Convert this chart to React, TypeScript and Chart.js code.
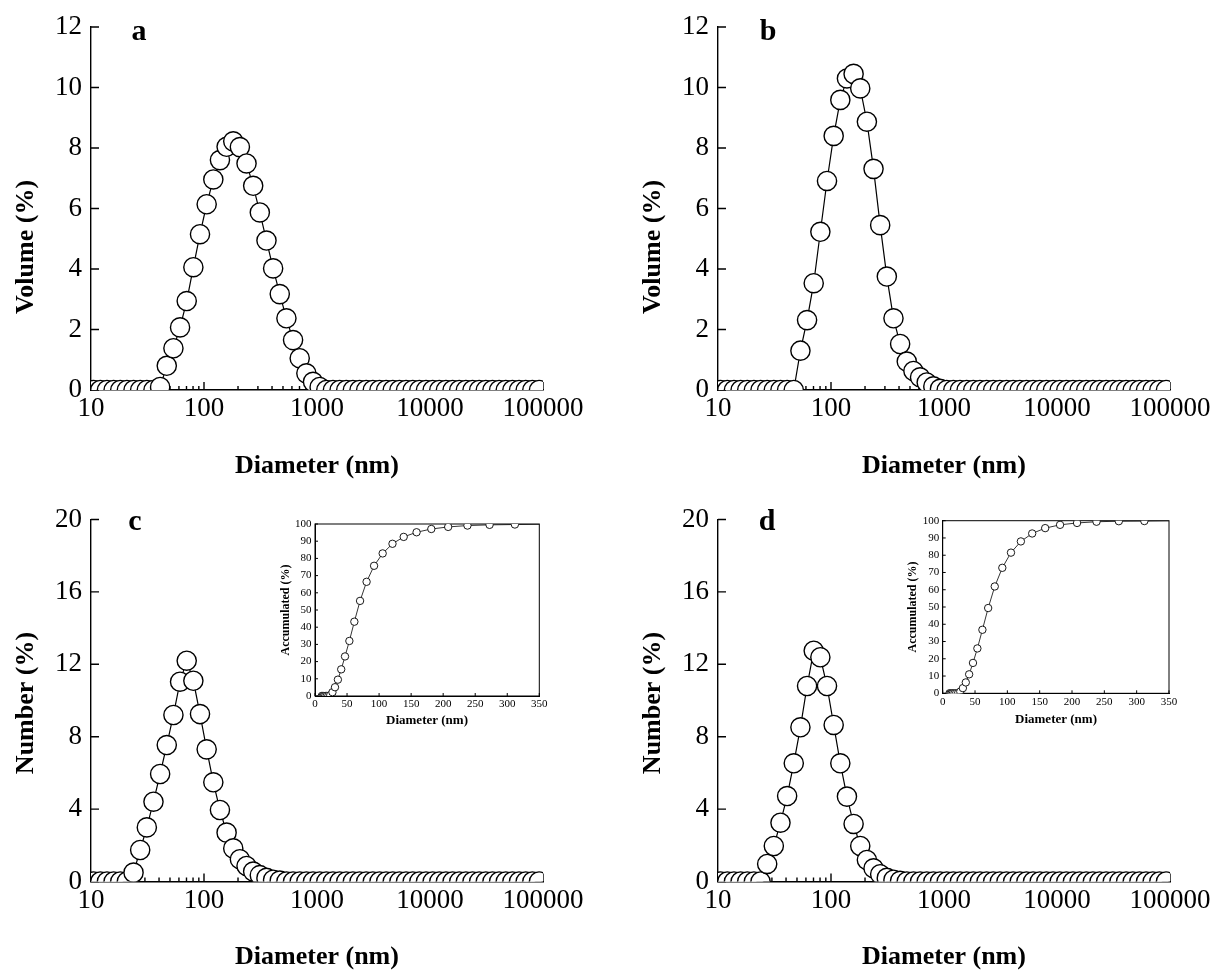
import { useEffect, useRef } from 'react';
import { Chart, registerables } from 'chart.js';

Chart.register(...registerables);

// ---------- data ----------
const DIAMETERS_NM = [
  10.56, 12.09, 13.84, 15.85, 18.15, 20.78, 23.79, 27.24, 31.19, 35.72, 40.9, 46.83, 53.63, 61.4, 70.31, 80.51, 92.19,
  105.6, 120.9, 138.4, 158.5, 181.5, 207.8, 237.9, 272.4, 311.9, 357.2, 409.0, 468.3, 536.3, 614.0, 703.1, 805.1, 921.9,
  1056, 1209, 1384, 1585, 1815, 2078, 2379, 2724, 3119, 3572, 4090, 4683, 5363, 6140, 7031, 8051, 9219,
  10560, 12090, 13840, 15850, 18150, 20780, 23790, 27240, 31190, 35720, 40900, 46830, 53630, 61400, 70310, 80510, 92190,
];

const VOLUME_A = [
  0, 0, 0, 0, 0, 0, 0, 0, 0, 0, 0.1, 0.8, 1.38, 2.07, 2.94, 4.06, 5.15,
  6.14, 6.96, 7.6, 8.04, 8.22, 8.03, 7.49, 6.75, 5.87, 4.94, 4.02, 3.17, 2.37, 1.65, 1.05, 0.55, 0.27,
  0.1, 0, 0, 0, 0, 0, 0, 0, 0, 0, 0, 0, 0, 0, 0, 0, 0,
  0, 0, 0, 0, 0, 0, 0, 0, 0, 0, 0, 0, 0, 0, 0, 0, 0,
];

const VOLUME_B = [
  0, 0, 0, 0, 0, 0, 0, 0, 0, 0, 0, 0, 1.3, 2.31, 3.53, 5.23, 6.91,
  8.4, 9.59, 10.3, 10.45, 9.97, 8.87, 7.31, 5.45, 3.75, 2.37, 1.52, 0.94, 0.63, 0.42, 0.25, 0.12, 0.04,
  0, 0, 0, 0, 0, 0, 0, 0, 0, 0, 0, 0, 0, 0, 0, 0, 0,
  0, 0, 0, 0, 0, 0, 0, 0, 0, 0, 0, 0, 0, 0, 0, 0, 0,
];

const NUMBER_C = [
  0, 0, 0, 0, 0, 0, 0.49, 1.74, 2.99, 4.41, 5.94, 7.54, 9.2, 11.04, 12.2, 11.09, 9.25,
  7.3, 5.48, 3.95, 2.7, 1.83, 1.23, 0.86, 0.55, 0.35, 0.2, 0.1, 0.05, 0, 0, 0, 0, 0,
  0, 0, 0, 0, 0, 0, 0, 0, 0, 0, 0, 0, 0, 0, 0, 0, 0,
  0, 0, 0, 0, 0, 0, 0, 0, 0, 0, 0, 0, 0, 0, 0, 0, 0,
];

const NUMBER_D = [
  0, 0, 0, 0, 0, 0, 0, 0.97, 1.96, 3.25, 4.72, 6.53, 8.52, 10.8, 12.75, 12.39, 10.8,
  8.65, 6.53, 4.69, 3.18, 1.96, 1.19, 0.73, 0.4, 0.2, 0.1, 0.04, 0, 0, 0, 0, 0, 0,
  0, 0, 0, 0, 0, 0, 0, 0, 0, 0, 0, 0, 0, 0, 0, 0, 0,
  0, 0, 0, 0, 0, 0, 0, 0, 0, 0, 0, 0, 0, 0, 0, 0, 0,
];

const ACCUM_C = [
  0, 0, 0, 0, 0, 0, 0.5, 2.2, 5.1, 9.5, 15.5, 23, 32, 43.2, 55.3, 66.4, 75.7,
  82.9, 88.5, 92.5, 95.2, 97.1, 98.3, 99.1, 99.5, 99.7, 99.9, 100, 100, 100,
];

const ACCUM_D = [
  0, 0, 0, 0, 0, 0, 0, 1, 3, 6.3, 11, 17.6, 26, 36.8, 49.4, 61.9, 72.7,
  81.5, 88, 92.6, 95.7, 97.6, 98.7, 99.4, 99.7, 99.8, 100, 100, 100, 100,
];

const X_MAJOR_TICKS = [10, 100, 1000, 10000, 100000];
const X_MINOR_MULTIPLIERS = [2, 3, 4, 5, 6, 7, 8, 9];
const VOLUME_Y_TICKS = [0, 2, 4, 6, 8, 10, 12];
const NUMBER_Y_TICKS = [0, 4, 8, 12, 16, 20];
const INSET_X_TICKS = [0, 50, 100, 150, 200, 250, 300, 350];
const INSET_Y_TICKS = [0, 10, 20, 30, 40, 50, 60, 70, 80, 90, 100];

const PANEL_LETTERS = ['a', 'b', 'c', 'd'];
const Y_TITLES = ['Volume (%)', 'Volume (%)', 'Number (%)', 'Number (%)'];
const X_TITLE = 'Diameter (nm)';
const INSET_Y_TITLE = 'Accumulated (%)';

// ---------- drawing ----------
const W = 1223;
const H = 973;
const FONT = "'Liberation Serif', 'Times New Roman', serif";

type Box = { left: number; top: number; right: number; bottom: number };
type TextItem = { text: string; x: number; y: number; size: number; bold: boolean; rot?: boolean; base?: CanvasTextBaseline };

function decoPlugin(o: {
  yTicks: number[];
  xTicks: number[];
  xMinor: number[];
  major: number;
  minor: number;
  lw: number;
  frame: boolean;
  texts: TextItem[];
}) {
  return {
    id: 'deco',
    beforeDatasetsDraw(chart: any) {
      const { ctx, chartArea: a, scales } = chart;
      const xs = scales.x;
      const ys = scales.y;
      ctx.save();
      ctx.strokeStyle = '#000';
      ctx.lineWidth = o.lw;
      ctx.beginPath();
      for (const v of o.yTicks) {
        const p = ys.getPixelForValue(v);
        ctx.moveTo(a.left, p);
        ctx.lineTo(a.left + o.major, p);
      }
      for (const v of o.xTicks) {
        const p = xs.getPixelForValue(v);
        ctx.moveTo(p, a.bottom);
        ctx.lineTo(p, a.bottom - o.major);
      }
      for (const v of o.xMinor) {
        const p = xs.getPixelForValue(v);
        ctx.moveTo(p, a.bottom);
        ctx.lineTo(p, a.bottom - o.minor);
      }
      ctx.stroke();
      if (o.frame) {
        ctx.strokeRect(a.left, a.top, a.right - a.left, a.bottom - a.top);
      }
      ctx.restore();
    },
    afterDraw(chart: any) {
      const { ctx } = chart;
      ctx.save();
      ctx.fillStyle = '#000';
      for (const t of o.texts) {
        ctx.font = `${t.bold ? 'bold ' : ''}${t.size}px ${FONT}`;
        ctx.textAlign = 'center';
        ctx.textBaseline = t.base || 'middle';
        ctx.save();
        ctx.translate(t.x, t.y);
        if (t.rot) ctx.rotate(-Math.PI / 2);
        ctx.fillText(t.text, 0, 0);
        ctx.restore();
      }
      ctx.restore();
    },
  };
}

function makeChart(
  canvas: HTMLCanvasElement,
  cfg: {
    box: Box;
    xs: number[];
    ys: number[];
    log: boolean;
    xMin: number;
    xMax: number;
    yMax: number;
    xTicks: number[];
    yTicks: number[];
    tickFont: number;
    xPad: number;
    yPad: number;
    radius: number;
    lw: number;
    pw: number;
    major: number;
    minor: number;
    frame: boolean;
    texts: TextItem[];
  }
) {
  const yAxisW = cfg.log ? 80 : 30;
  const xAxisH = cfg.log ? 60 : 20;
  const { box } = cfg;
  const xMinor: number[] = [];
  if (cfg.log) {
    for (const d of X_MAJOR_TICKS.slice(0, -1)) for (const m of X_MINOR_MULTIPLIERS) xMinor.push(d * m);
  }
  const data = cfg.ys.map((y, i) => ({ x: cfg.xs[i], y }));
  return new Chart(canvas, {
    type: 'line',
    data: {
      datasets: [
        {
          data,
          borderColor: '#000',
          borderWidth: cfg.lw,
          pointRadius: cfg.radius,
          pointHoverRadius: cfg.radius,
          pointBackgroundColor: '#fff',
          pointBorderColor: '#000',
          pointBorderWidth: cfg.pw,
          fill: false,
          tension: 0,
          clip: 0,
        } as any,
      ],
    },
    options: {
      animation: false,
      responsive: false,
      devicePixelRatio: 1,
      events: [],
      layout: {
        padding: {
          left: box.left - yAxisW,
          top: box.top,
          right: W - box.right,
          bottom: H - box.bottom - xAxisH,
        },
      },
      plugins: { legend: { display: false }, tooltip: { enabled: false } },
      scales: {
        x: {
          type: cfg.log ? 'logarithmic' : 'linear',
          min: cfg.xMin,
          max: cfg.xMax,
          afterBuildTicks: (s: any) => {
            s.ticks = cfg.xTicks.map((v) => ({ value: v }));
          },
          afterFit: (s: any) => {
            s.height = xAxisH;
          },
          ticks: {
            autoSkip: false,
            maxRotation: 0,
            minRotation: 0,
            padding: cfg.xPad,
            color: '#000',
            font: { family: FONT, size: cfg.tickFont },
            callback: (v: any) => String(v),
          },
          grid: { display: false, drawTicks: false },
          border: { display: true, color: '#000', width: cfg.lw + 0.2 },
        },
        y: {
          type: 'linear',
          min: 0,
          max: cfg.yMax,
          afterBuildTicks: (s: any) => {
            s.ticks = cfg.yTicks.map((v) => ({ value: v }));
          },
          afterFit: (s: any) => {
            s.width = yAxisW;
          },
          ticks: {
            autoSkip: false,
            padding: cfg.yPad,
            color: '#000',
            font: { family: FONT, size: cfg.tickFont },
            callback: (v: any) => String(v),
          },
          grid: { display: false, drawTicks: false },
          border: { display: true, color: '#000', width: cfg.lw + 0.2 },
        },
      } as any,
    },
    plugins: [
      decoPlugin({
        yTicks: cfg.yTicks,
        xTicks: cfg.xTicks,
        xMinor,
        major: cfg.major,
        minor: cfg.minor,
        lw: cfg.lw + 0.2,
        frame: cfg.frame,
        texts: cfg.texts,
      }),
    ],
  });
}

const MAIN_BOXES: Box[] = [
  { left: 91, top: 27, right: 543, bottom: 390 },
  { left: 718, top: 27, right: 1170, bottom: 390 },
  { left: 91, top: 519.5, right: 543, bottom: 881.5 },
  { left: 718, top: 519.5, right: 1170, bottom: 881.5 },
];

export default function App() {
  const refs = useRef<(HTMLCanvasElement | null)[]>([]);

  useEffect(() => {
    const charts: Chart[] = [];
    const series = [VOLUME_A, VOLUME_B, NUMBER_C, NUMBER_D];
    const letterPos = [
      [139, 40],
      [768, 40],
      [135, 530],
      [767, 530],
    ];
    const yTitlePos = [
      [26, 247],
      [653, 247],
      [26, 703],
      [653, 703],
    ];
    const xTitlePos = [
      [317, 466],
      [944, 466],
      [317, 957],
      [944, 957],
    ];
    for (let i = 0; i < 4; i++) {
      const c = refs.current[i];
      if (!c) continue;
      charts.push(
        makeChart(c, {
          box: MAIN_BOXES[i],
          xs: DIAMETERS_NM,
          ys: series[i],
          log: true,
          xMin: 10,
          xMax: 100000,
          yMax: i < 2 ? 12 : 20,
          xTicks: X_MAJOR_TICKS,
          yTicks: i < 2 ? VOLUME_Y_TICKS : NUMBER_Y_TICKS,
          tickFont: 27,
          xPad: 3,
          yPad: 9,
          radius: 9.6,
          lw: 1.2,
          pw: 1.4,
          major: 8,
          minor: 4,
          frame: false,
          texts: [
            { text: PANEL_LETTERS[i], x: letterPos[i][0], y: letterPos[i][1], size: 30, bold: true, base: 'alphabetic' },
            { text: Y_TITLES[i], x: yTitlePos[i][0], y: yTitlePos[i][1], size: 26, bold: true, rot: true },
            { text: X_TITLE, x: xTitlePos[i][0], y: xTitlePos[i][1], size: 26, bold: true },
          ],
        })
      );
    }
    const insets = [
      { box: { left: 315, top: 524, right: 539.3, bottom: 696 }, ys: ACCUM_C, xt: [427, 721], yt: [286, 610] },
      { box: { left: 942.7, top: 520.7, right: 1169, bottom: 693.3 }, ys: ACCUM_D, xt: [1056, 720], yt: [913, 607] },
    ];
    insets.forEach((ins, j) => {
      const c = refs.current[4 + j];
      if (!c) return;
      charts.push(
        makeChart(c, {
          box: ins.box,
          xs: DIAMETERS_NM.slice(0, ins.ys.length),
          ys: ins.ys,
          log: false,
          xMin: 0,
          xMax: 350,
          yMax: 100,
          xTicks: INSET_X_TICKS,
          yTicks: INSET_Y_TICKS,
          tickFont: 11,
          xPad: 2,
          yPad: 3.5,
          radius: 3.7,
          lw: 0.8,
          pw: 0.9,
          major: 3,
          minor: 0,
          frame: true,
          texts: [
            { text: X_TITLE, x: ins.xt[0], y: ins.xt[1], size: 13, bold: true },
            { text: INSET_Y_TITLE, x: ins.yt[0], y: ins.yt[1], size: 12, bold: true, rot: true },
          ],
        })
      );
    });
    return () => charts.forEach((ch) => ch.destroy());
  }, []);

  return (
    <div style={{ position: 'fixed', left: 0, top: 0, width: W, height: H, background: '#fff' }}>
      {[0, 1, 2, 3, 4, 5].map((i) => (
        <canvas
          key={i}
          ref={(el) => {
            refs.current[i] = el;
          }}
          width={W}
          height={H}
          style={{ position: 'absolute', left: 0, top: 0, width: W, height: H }}
        />
      ))}
    </div>
  );
}
